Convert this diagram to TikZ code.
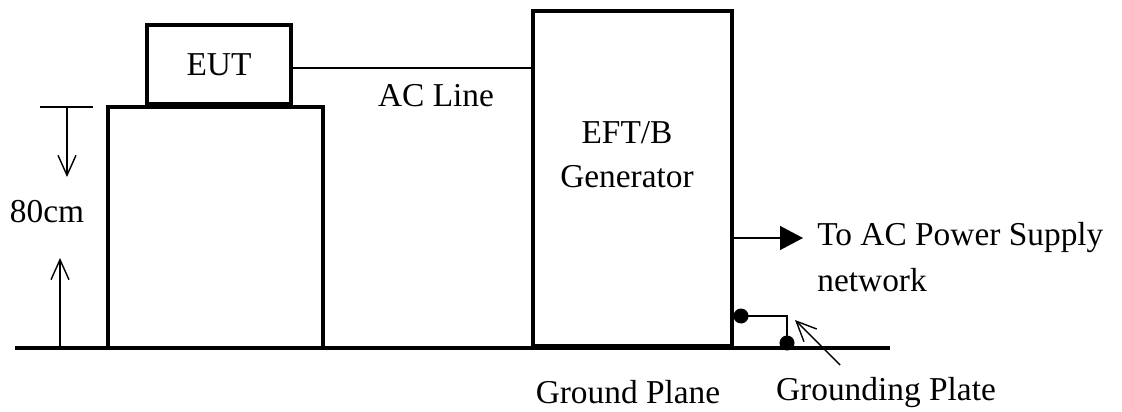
\documentclass[tikz,border=0pt]{standalone}
\usepackage{fontspec}
\setmainfont{Liberation Serif}
\usetikzlibrary{arrows.meta,positioning}

\begin{document}
\begin{tikzpicture}[x=0.02cm,y=-0.02cm,
  >={Straight Barb[length=0.4cm,width=0.36cm]},
  every node/.style={font=\fontsize{19}{25}\selectfont},
  unit/.style={draw,line width=2pt,inner sep=0pt},
  wire/.style={line width=0.8pt},
  dot/.style={circle,fill,inner sep=0pt,minimum size=0.3cm}]
\useasboundingbox (0,0) rectangle (1122,412);
% ground plane
\coordinate (g_l) at (15,348);
\coordinate (g_r) at (890,348);
\draw[line width=2pt] (g_l) -- (g_r);
\node[unit,minimum width=4.3cm,minimum height=4.82cm] (desk) at (215.5,227.5) {};
\node[unit,minimum width=2.88cm,minimum height=1.58cm] (eut) at (219,64.5) {EUT};
\node[unit,minimum width=3.98cm,minimum height=6.7cm] (gen) at (632.5,178.5) {};
\node[align=center] (gen_txt) at (627,155) {EFT/B\\Generator};
% AC line
\draw[wire] ([yshift=-2pt]eut.east) -- ([yshift=-2pt]eut.east -| gen.west);
\node[anchor=base] (ac) at (436,107) {AC Line};
% 80cm height
\coordinate (t_l) at (40,107);
\coordinate (t_r) at (93,107);
\coordinate (t_a) at (67,107);
\coordinate (t_b) at (67,177);
\coordinate (b_a) at (60,348);
\coordinate (b_b) at (60,258);
\draw[wire] (t_l) -- (t_r);
\draw[wire,->] (t_a) -- (t_b);
\draw[wire,->] (b_a) -- (b_b);
\node[anchor=base] (len) at (47,222) {80cm};
% supply
\coordinate (p_0) at (732,238);
\coordinate (p_1) at (803,238);
\draw[wire,-{Triangle[length=0.46cm,width=0.48cm]}] (p_0) -- (p_1);
\node[anchor=base west,inner sep=0pt] (sup_1) at (817,245) {To AC Power Supply};
\node[anchor=base west,inner sep=0pt] (sup_2) at (817,291) {network};
% grounding plate
\node[dot] (d_1) at (741,316) {};
\node[dot] (d_2) at (787,343) {};
\draw[line width=1.2pt] (d_1.center) -| (d_2.center);
\coordinate (gp_0) at (840,365);
\coordinate (gp_1) at (795,320);
\draw[wire,->] (gp_0) -- (gp_1);
\node[anchor=base] (gp) at (886,400) {Grounding Plate};
\node[anchor=base] (plane) at (628,403) {Ground Plane};
\end{tikzpicture}
\end{document}
